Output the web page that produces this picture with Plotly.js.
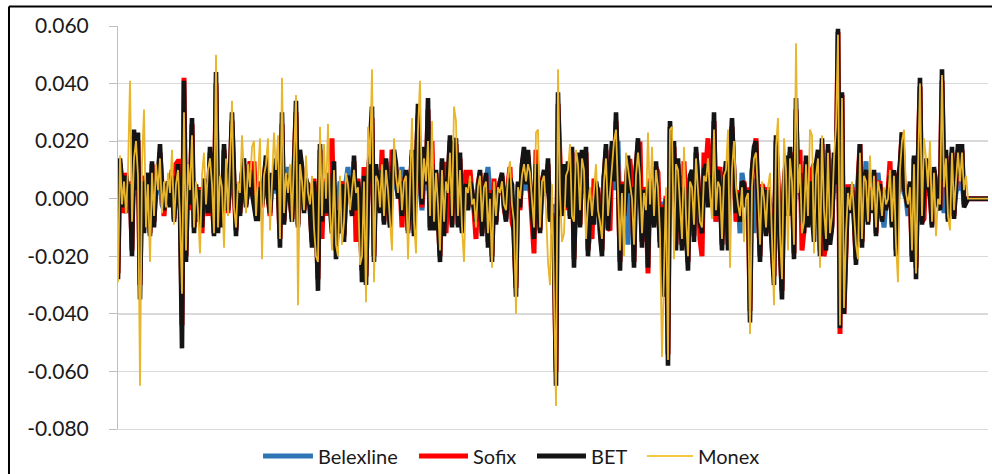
<!DOCTYPE html>
<html>
<head>
<meta charset="utf-8">
<script src="https://cdn.plot.ly/plotly-3.0.1.min.js"></script>
<style>
  html, body { margin: 0; padding: 0; background: #fff; }
  #chart { width: 992px; height: 474px; }
</style>
</head>
<body>
<div id="chart"></div>
<script>
// Daily returns of four regional stock indices
const seriesNames = ['Belexline', 'Sofix', 'BET', 'Monex'];

const belexline = [
  -.006,.008,.002,-.003,-.005,.003,.002,-.006,.008,.001,
  .006,-.008,.003,-.004,.002,.005,-.005,.004,-.003,.002,
  .003,.006,-.002,-.004,.005,.003,-.002,.004,-.005,.003,
  .006,.002,-.012,.012,-.006,.004,-.001,.008,-.005,.002,
  -.003,.002,-.005,.004,.001,-.003,.007,.002,-.005,.010,
  -.004,.003,-.004,.006,.001,-.002,.004,.009,.002,-.005,
  .003,-.003,.005,.006,-.001,.003,.005,.001,.002,-.003,
  -.003,.002,-.001,.004,.006,.001,-.003,.004,.002,.006,
  .003,-.006,.009,-.004,.006,.011,.002,-.003,.005,.010,
  -.004,.007,.005,-.002,.003,.002,-.002,-.006,.003,-.004,
  -.010,.008,-.005,.004,-.002,.005,.008,.011,.004,-.007,
  -.002,.006,.003,-.005,.006,.011,.004,-.002,.007,-.004,
  .003,-.001,-.009,.004,-.010,.003,.007,.010,-.007,.005,
  .002,-.002,.006,-.004,.006,.002,-.004,.005,.007,.005,
  .001,.006,.011,.003,.005,-.005,.003,.007,-.005,.003,
  .010,.004,-.004,.007,.003,.011,-.004,.007,-.004,.004,
  -.002,-.008,.006,-.005,.003,.004,.008,-.003,.007,.008,
  -.003,.006,-.004,.002,.004,-.001,.005,.002,-.001,-.005,
  .003,.005,-.005,.002,.006,.011,.002,-.008,.004,-.003,
  .002,.006,.004,-.001,-.003,.003,.004,.001,-.004,-.012,
  .003,-.001,.005,.007,.003,.006,.003,-.002,-.005,.006,
  .002,-.004,.003,.004,.001,.005,-.003,-.002,-.005,-.020,
  .012,.003,-.002,.005,-.001,.005,-.002,.007,-.008,.008,
  .006,-.003,.007,.002,.006,-.006,-.002,-.003,.003,.001,
  .001,-.004,-.006,.008,.007,-.004,.002,.007,.003,.012,
  .020,-.008,.003,-.002,.002,-.016,.002,.002,-.008,.004,
  .008,.003,-.006,.002,0,-.008,.003,.001,-.003,.005,
  .001,-.006,-.001,-.012,0,-.020,.010,.003,.007,-.005,
  .005,-.002,-.006,.002,-.003,-.008,.003,.004,-.005,.006,
  .003,-.003,-.005,.005,.004,.006,.003,0,.010,-.008,
  .004,.001,-.006,.002,.005,-.006,.005,.009,.004,-.002,
  .001,-.012,.009,.002,-.001,.001,-.014,.004,-.012,.007,
  0,-.007,.002,.001,-.004,.001,-.002,-.006,-.010,.008,
  .003,-.006,-.011,.002,.005,-.002,.006,.002,-.007,.012,
  .002,.004,-.003,-.004,.005,-.003,.002,-.002,-.005,.004,
  .006,-.007,.007,-.002,-.006,.006,-.005,-.003,.005,.002,
  .020,-.015,.012,-.013,-.003,.002,-.002,.005,-.002,-.008,
  .002,.007,-.006,.003,.013,-.003,.001,-.002,.004,-.005,
  .009,.002,-.003,-.010,-.001,.001,.004,-.004,.004,-.007,
  .002,.004,.008,.002,0,-.006,.002,-.007,.005,-.009,
  .004,.014,-.003,.001,.005,.002,.001,-.004,.004,.001,
  -.001,-.001,.015,-.005,.006,-.003,.001,.006,-.002,.003,
  .006,.003,.006,-.001,0,0,0,0,0,0,
  0,0,0,0,0,0
];

const sofix = [
  -.026,.012,.004,-.005,.009,0,.006,-.018,.022,.004,
  .020,-.030,.008,-.010,.006,.007,-.012,.012,-.008,.006,
  .006,.016,.005,-.006,.003,.005,-.002,.010,-.007,.012,
  .013,.013,-.044,.042,-.020,.010,-.004,.026,-.010,.004,
  -.008,.004,-.012,.006,.005,-.006,.016,.004,-.012,.040,
  -.010,.005,-.009,.017,.003,-.005,.006,.027,.005,-.011,
  .004,-.005,.008,.012,-.002,.007,.013,.004,.013,-.006,
  -.005,.006,-.003,.007,.013,.002,-.006,.008,.004,.012,
  .006,-.014,.026,-.008,.005,.007,-.001,-.007,.011,.030,
  -.009,.015,.010,-.004,.006,.005,-.003,-.015,.007,-.006,
  -.028,.017,-.014,.007,-.006,.008,-.004,.021,-.010,-.018,
  -.006,-.010,.006,-.013,.003,.007,.005,-.005,.013,-.015,
  .007,-.004,-.025,.011,-.027,.006,.017,.028,-.020,.010,
  .005,-.004,.017,-.008,.013,.003,-.009,.017,.015,.010,
  .002,.005,-.010,.005,.009,-.011,.006,.015,-.012,.007,
  .029,.009,-.003,.016,.005,.031,-.010,.020,-.010,.009,
  -.005,-.020,.012,.012,-.012,.007,.020,-.009,.017,.019,
  -.009,.014,-.011,.004,.010,-.003,.010,.002,-.004,-.014,
  .005,.009,-.012,.003,.008,-.015,.003,-.020,.007,-.008,
  .003,.005,.008,-.003,-.007,.005,.011,-.008,-.011,-.031,
  .005,-.004,.011,.016,.006,.015,.005,-.006,-.019,.017,
  .004,-.011,.006,.009,.003,.012,-.007,-.006,-.014,-.060,
  .033,.006,-.005,.011,-.004,.012,-.006,.016,-.021,.006,
  .014,-.009,.015,.005,.016,-.018,-.011,-.014,.007,.003,
  .003,-.010,-.018,.007,.017,-.010,-.011,.018,.007,.027,
  .009,-.022,.006,-.005,.004,.013,.013,.005,-.022,.010,
  .019,.019,-.015,.004,.001,-.026,.007,.003,-.009,.011,
  .009,-.015,-.002,-.031,.001,-.054,.025,.008,.018,-.016,
  .012,-.005,-.016,.013,-.009,-.022,.007,.009,-.013,.016,
  .007,-.014,-.020,.016,.011,.021,.007,-.002,.027,-.008,
  .009,.011,-.016,.006,.011,-.016,.012,.025,.009,-.008,
  .003,-.007,.005,.006,-.002,.004,-.039,.009,.016,.021,
  .001,-.020,.005,.003,-.012,.004,-.005,-.017,-.027,.020,
  .007,-.016,-.032,.005,.013,-.005,.016,.013,-.019,.031,
  .005,.017,-.018,-.011,.013,-.009,.007,.010,.012,.011,
  .015,-.018,.019,-.020,-.016,.017,-.014,-.009,.014,.005,
  .058,-.047,.036,-.040,-.009,.005,-.004,.004,-.006,-.021,
  .006,.019,-.015,.007,.009,-.008,.004,-.004,.009,-.012,
  .005,.006,-.007,.003,-.003,.003,.013,-.009,.009,-.018,
  .006,.011,.023,.005,.001,-.003,.005,-.020,.014,-.024,
  .011,.039,-.008,-.007,.013,.006,.003,-.009,.010,.006,
  -.001,-.003,.041,.007,.015,-.007,.004,.016,-.006,.007,
  .017,.009,.017,-.002,-.001,0,0,0,0,0,
  0,0,0,0,0,0
];

const bet = [
  -.028,.014,.006,-.003,.008,.002,.005,-.020,.024,.003,
  .023,-.035,.006,-.012,.004,.009,-.013,.013,-.010,.004,
  .008,.019,.003,-.004,.002,.006,-.003,.008,-.008,.004,
  .012,-.004,-.052,.041,-.022,.008,-.002,.028,-.012,.005,
  -.006,.003,-.010,.007,.003,-.005,.018,.002,-.013,.044,
  -.012,.006,-.010,.019,.002,-.004,.008,.030,.004,-.013,
  .005,-.006,.009,.014,-.003,.006,.010,.002,-.004,-.007,
  -.007,.004,-.002,.006,.015,0,-.005,.009,.003,.014,
  .005,-.017,.030,-.009,.006,.008,-.002,-.008,.010,.034,
  -.010,.017,.011,-.005,.007,.004,-.004,-.017,.006,-.008,
  -.032,.019,-.008,.006,-.005,.009,-.003,-.012,.013,-.021,
  -.004,-.012,.005,-.015,.002,.008,.004,-.006,.015,-.004,
  .006,-.002,-.029,.008,-.030,.005,.019,.032,-.022,.012,
  .004,-.005,.010,-.009,.014,.002,-.010,.006,.017,.012,
  0,.006,-.006,.004,.010,-.012,.005,.017,-.013,.008,
  .033,.008,-.002,.018,.005,.035,-.011,.012,-.011,.010,
  -.006,-.022,.014,-.013,.004,.008,.022,-.010,.019,.021,
  -.010,.016,-.012,.003,.005,-.004,.006,.003,-.003,-.008,
  .004,.010,-.013,.002,.009,-.017,.002,-.022,.003,-.009,
  .002,.006,.009,-.002,-.008,.004,.007,.005,-.012,-.034,
  .006,-.003,.012,.018,.005,.017,.006,-.004,-.014,.012,
  .003,-.012,.005,.010,.002,.014,-.008,-.005,-.015,-.065,
  .037,.005,-.006,.012,-.003,.013,-.007,.018,-.024,.005,
  .016,-.010,.017,.004,.018,-.020,-.005,0,-.009,.006,
  .002,-.012,-.020,.008,.019,-.011,.003,.020,.006,.030,
  .008,-.025,.005,-.006,.003,.015,.002,.004,-.024,.011,
  .021,.005,-.017,.003,0,-.024,.006,.002,-.010,.013,
  0,-.017,-.003,-.034,0,-.058,.027,.008,.020,-.018,
  .014,-.006,-.018,.004,-.010,-.025,.008,.010,-.015,.018,
  .006,-.008,-.012,.010,.012,-.003,.008,0,.030,-.006,
  .010,.002,-.018,.005,.013,-.018,.013,.028,.010,-.005,
  .002,-.008,.006,.005,-.003,.003,-.043,.010,.018,.020,
  0,-.022,.004,.002,-.013,.003,-.005,-.019,-.030,.022,
  .006,-.018,-.035,.004,.015,-.006,.018,.005,-.021,.035,
  .004,.009,-.006,-.012,.015,-.010,.006,-.005,-.015,.012,
  .017,-.020,.021,-.006,-.018,.019,-.016,-.010,.016,.005,
  .059,-.045,.037,-.040,-.010,.004,-.005,.003,-.007,-.023,
  .005,.019,-.017,.006,.010,-.009,.003,-.005,.010,-.013,
  .004,.005,-.008,.002,-.004,.002,.008,-.010,.010,-.020,
  .005,.012,.023,.004,0,-.003,.006,-.022,.015,-.028,
  .012,.042,-.009,.003,.014,.005,.002,-.010,.011,.003,
  -.002,-.004,.045,.006,.017,-.008,.003,.018,-.007,.008,
  .019,.008,.019,-.003,-.001,0,0,0,0,0,
  0,0,0,0,0,0
];

const monex = [
  -.029,.015,-.002,.006,-.005,.010,.041,-.008,.014,.020,
  .008,-.065,.012,.031,-.010,.005,-.022,.009,-.006,.012,
  .003,.014,-.005,.006,-.003,.009,.002,.017,-.009,.005,
  .010,-.006,-.033,.030,-.018,.012,.003,.022,-.010,.006,
  -.004,-.019,.008,.016,-.002,.010,.014,.005,-.012,.050,
  -.010,.008,.004,-.017,.014,-.006,.012,.034,-.003,-.010,
  .006,.002,.022,.008,-.005,.012,.004,.018,.020,-.006,
  .010,.021,-.021,.008,.012,.021,-.011,.005,.023,.010,
  .022,-.014,.042,-.005,.009,.002,.012,-.008,.014,.036,
  -.037,.012,.006,-.004,.015,.002,-.002,.008,-.010,-.020,
  -.022,.025,-.006,.019,0,.026,-.004,-.018,.010,-.016,
  -.020,.008,-.016,-.008,.009,.005,-.004,.002,.010,.002,
  .004,-.023,-.020,.006,-.036,.025,.012,.045,-.029,.008,
  .006,-.003,.012,-.006,.010,.003,-.008,-.018,.021,.008,
  .002,.010,-.004,.006,.008,-.021,.004,.028,-.008,-.019,
  .024,.041,0,.014,.006,.020,-.006,.027,-.008,.009,
  -.002,-.018,.010,-.008,.006,.002,.016,-.006,.032,.027,
  -.006,.010,-.010,-.022,.004,.002,.008,-.002,0,-.010,
  .004,.008,-.008,.004,.006,-.012,0,-.024,.006,-.006,
  .004,.002,.006,-.002,-.004,.008,.013,-.002,-.008,-.040,
  .004,0,.008,.012,.006,.012,.009,-.002,-.010,.023,
  .024,-.010,.006,.008,-.004,-.022,-.030,.005,-.032,-.072,
  .045,.002,-.015,-.012,.008,.010,.019,-.006,-.008,.017,
  .012,-.004,.014,.010,-.014,-.002,.004,-.006,.003,.012,
  -.004,-.008,-.014,.006,.014,-.006,.002,.012,.020,.024,
  .006,-.018,.002,-.020,.016,.010,.004,0,-.016,.008,
  .016,.008,-.012,.002,-.004,.023,-.002,.018,-.006,.010,
  .004,-.012,-.055,-.028,.004,-.056,.024,.025,-.021,.012,
  .010,-.002,-.014,.018,-.006,-.020,.006,.004,-.009,.014,
  .004,-.008,-.010,.008,.006,.014,.002,-.007,.024,-.004,
  .006,.004,-.014,.008,.010,.024,-.024,.010,.020,.004,
  -.002,-.006,.004,-.015,0,.002,-.047,.004,.014,.016,
  .002,-.016,.006,0,-.010,.004,.009,-.012,-.037,.018,
  .028,-.012,-.028,.021,.010,-.018,.014,.006,-.016,.054,
  .002,.012,-.012,-.008,.012,-.006,.024,.022,-.019,.008,
  .014,-.024,.022,-.004,-.014,.016,-.012,-.006,.014,.025,
  .057,-.044,.035,-.038,-.012,.002,-.004,.006,-.004,-.016,
  -.021,.016,-.014,.008,.006,-.008,.015,-.004,.008,-.010,
  .006,.002,-.006,.004,-.002,0,.010,-.008,.008,-.016,
  -.029,.010,.020,.024,.002,-.002,.004,-.018,.012,-.026,
  .010,.040,-.006,.021,.014,.004,.020,-.008,.009,-.013,
  0,-.002,.043,.004,.014,-.006,-.011,.016,-.004,.006,
  .016,.006,.016,.003,.008,0,0,0,0,0,
  0,0,0,0,0,0
];

// y-axis tick values and their printed labels (plain hyphen minus)
const yTicks = [-0.08, -0.06, -0.04, -0.02, 0, 0.02, 0.04, 0.06];
const yTickText = ['-0.080', '-0.060', '-0.040', '-0.020', '0.000', '0.020', '0.040', '0.060'];

const allSeries = [belexline, sofix, bet, monex];
const n = bet.length;
allSeries.forEach((s, k) => {
  if (s.length !== n) throw new Error(seriesNames[k] + ' has ' + s.length + ' values, expected ' + n);
});

// trading-day index used as the category axis
const days = [];
for (let i = 0; i < n; i++) days.push(i + 1);

const styles = [
  { color: '#2e75b6', width: 5 },
  { color: '#ff0000', width: 5 },
  { color: '#141414', width: 4.6 },
  { color: '#e8b52c', width: 1.8 }
];
const legendStyles = [
  { color: '#2e75b6', width: 5 },
  { color: '#ff0000', width: 5 },
  { color: '#141414', width: 5 },
  { color: '#f5c842', width: 2 }
];

const traces = allSeries.map((s, k) => ({
  type: 'scatter',
  mode: 'lines',
  name: seriesNames[k],
  x: days,
  y: s,
  line: { color: styles[k].color, width: styles[k].width },
  hoverinfo: 'skip',
  showlegend: false
}));

// legend row below the plot: sample line start/end and label start, in paper units
const legendY = -0.067;
const legendSlots = [
  { x0: 0.1667, x1: 0.2241, tx: 0.2276 },
  { x0: 0.3460, x1: 0.4023, tx: 0.4052 },
  { x0: 0.4816, x1: 0.5379, tx: 0.5414 },
  { x0: 0.6080, x1: 0.6609, tx: 0.6644 }
];

const shapes = [
  { type: 'line', xref: 'paper', yref: 'paper', x0: -0.1253, x1: -0.1253, y0: -0.2, y1: 1.0484,
    line: { color: '#000000', width: 2 } },
  { type: 'line', xref: 'paper', yref: 'paper', x0: -0.1253, x1: 1.2, y0: 1.0484, y1: 1.0484,
    line: { color: '#000000', width: 2 } }
];
const annotations = [];
legendSlots.forEach((slot, k) => {
  shapes.push({
    type: 'line', xref: 'paper', yref: 'paper',
    x0: slot.x0, x1: slot.x1, y0: legendY, y1: legendY,
    line: { color: legendStyles[k].color, width: legendStyles[k].width }
  });
  annotations.push({
    xref: 'paper', yref: 'paper', x: slot.tx, y: legendY,
    xanchor: 'left', yanchor: 'middle', showarrow: false,
    text: seriesNames[k],
    font: { size: 20, color: '#1a1a1a' }
  });
});

const layout = {
  width: 992,
  height: 474,
  margin: { l: 118, r: 4, t: 26, b: 45 },
  paper_bgcolor: '#ffffff',
  plot_bgcolor: '#ffffff',
  font: { family: 'Lato, "Open Sans", sans-serif', color: '#1a1a1a' },
  showlegend: false,
  xaxis: {
    range: [1, n],
    showgrid: false,
    zeroline: false,
    showticklabels: false,
    ticks: '',
    showline: true,
    linecolor: '#d9d9d9',
    linewidth: 1
  },
  yaxis: {
    range: [-0.08, 0.06],
    tickmode: 'array',
    tickvals: yTicks,
    ticktext: yTickText,
    showgrid: true,
    gridcolor: '#d9d9d9',
    gridwidth: 1.3,
    zeroline: false,
    showline: true,
    linecolor: '#bfbfbf',
    linewidth: 1,
    ticks: 'outside',
    ticklen: 8,
    tickcolor: '#bfbfbf',
    ticklabelstandoff: 16,
    tickfont: { size: 21, color: '#1a1a1a' }
  },
  shapes: shapes,
  annotations: annotations
};

Plotly.newPlot('chart', traces, layout, { staticPlot: true, displayModeBar: false });
</script>
</body>
</html>
